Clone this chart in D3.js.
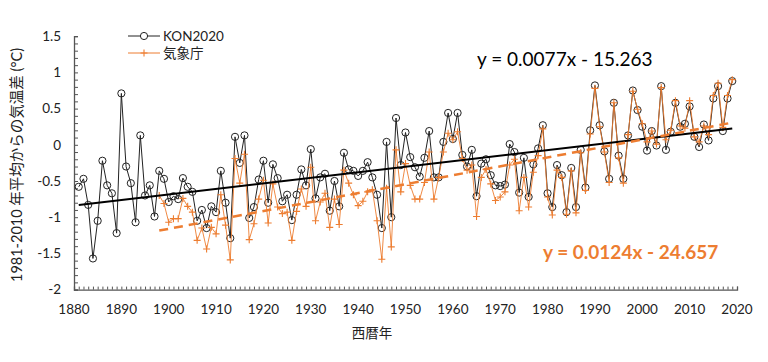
<!DOCTYPE html>
<html lang="ja">
<head>
<meta charset="UTF-8">
<title>気温差</title>
<script src="https://d3js.org/d3.v7.min.js"></script>
<style>
  body { margin: 0; background: #fff; }
  svg { display: block; font-family: "Lato", "Noto Sans CJK JP", sans-serif; }
  .tick-label { font-size: 13.5px; fill: #222; }
</style>
</head>
<body>
<svg width="768" height="362"></svg>
<script>
// KON2020 (1881-2019)
const konStart = 1881;
const konValues = [
  -0.58, -0.47, -0.83, -1.57, -1.05, -0.22, -0.56, -0.67, -1.22, 0.71,
  -0.30, -0.53, -1.07, 0.13, -0.70, -0.56, -0.99, -0.36, -0.47, -0.79,
  -0.71, -0.75, -0.46, -0.58, -0.65, -1.05, -0.90, -1.15, -0.85, -0.93,
  -0.36, -0.80, -1.29, 0.11, -0.25, 0.13, -1.01, -0.86, -0.48, -0.22,
  -0.80, -0.27, -0.46, -0.78, -0.69, -1.04, -0.69, -0.34, -0.56, -0.06,
  -0.74, -0.45, -0.40, -0.91, -0.50, -0.85, -0.11, -0.34, -0.36, -0.43,
  -0.36, -0.24, -0.45, -0.69, -1.15, 0.04, -1.00, 0.37, -0.28, 0.17,
  -0.17, -0.31, -0.44, -0.18, 0.19, -0.45, -0.45, 0.04, 0.44, 0.08,
  0.44, -0.14, -0.30, -0.07, -0.71, -0.26, -0.20, -0.42, -0.56, -0.57,
  -0.55, 0.01, -0.10, -0.66, -0.18, -0.72, -0.27, -0.05, 0.27, -0.67,
  -0.86, -0.28, -0.42, -0.93, -0.32, -0.86, -0.07, -0.59, 0.20, 0.82,
  0.27, -0.09, -0.47, 0.58, -0.15, -0.47, 0.13, 0.75, 0.48, 0.25,
  -0.08, 0.19, -0.01, 0.81, -0.07, 0.18, 0.58, 0.25, 0.29, 0.53,
  0.11, -0.03, 0.28, 0.06, 0.64, 0.81, 0.19, 0.64, 0.88
];

// 気象庁 (1898-2019)
const jmaStart = 1898;
const jmaValues = [
  -0.70, -0.81, -1.07, -1.02, -1.02, -0.74, -0.85, -0.93, -1.32, -1.15,
  -1.44, -1.14, -1.23, -0.69, -1.11, -1.59, -0.19, -0.53, -0.13, -1.31,
  -1.09, -0.75, -0.49, -1.08, -0.54, -0.86, -0.95, -0.93, -1.32, -0.92,
  -0.61, -0.85, -0.31, -1.05, -0.79, -0.67, -1.14, -0.75, -1.10, -0.35,
  -0.53, -0.69, -0.84, -0.78, -0.65, -0.62, -1.05, -1.58, -0.60, -1.41,
  -0.07, -0.65, -0.26, -0.56, -0.75, -0.75, -0.52, -0.10, -0.75, -0.45,
  -0.10, 0.16, 0.07, 0.18, -0.19, -0.35, -0.28, -0.99, -0.45, -0.34,
  -0.54, -0.77, -0.72, -0.65, -0.28, -0.20, -0.91, -0.45, -0.86, -0.38,
  -0.15, 0.22, -0.72, -0.97, -0.35, -0.45, -0.96, -0.36, -0.94, -0.11,
  -0.63, 0.15, 0.78, 0.25, -0.10, -0.52, 0.58, -0.18, -0.53, 0.14,
  0.74, 0.49, 0.29, 0.04, 0.19, 0.01, 0.79, 0.07, 0.20, 0.61,
  0.26, 0.23, 0.61, 0.11, 0.04, 0.26, 0.14, 0.68, 0.85, 0.24,
  0.68, 0.90
];

const seriesNames = ["KON2020", "気象庁"];
const formulas = ["y = 0.0077x - 15.263", "y = 0.0124x - 24.657"];
const yTickValues = [1.5, 1, 0.5, 0, -0.5, -1, -1.5, -2];
const xTickValues = d3.range(1880, 2021, 10);

const orange = "#ED7D31";
const svg = d3.select("svg");

const x = d3.scaleLinear().domain([1880, 2020]).range([74, 737]);
const y = d3.scaleLinear().domain([-2, 1.5]).range([289.6, 36.2]);

const kon = konValues.map((v, i) => ({ year: konStart + i, v }));
const jma = jmaValues.map((v, i) => ({ year: jmaStart + i, v }));

// least squares trend
function fit(data) {
  const n = data.length;
  const mx = d3.mean(data, d => d.year), my = d3.mean(data, d => d.v);
  const sxy = d3.sum(data, d => (d.year - mx) * (d.v - my));
  const sxx = d3.sum(data, d => (d.year - mx) ** 2);
  const b = sxy / sxx;
  const first = data[0].year, last = data[n - 1].year;
  return [{ year: first, v: my + b * (first - mx) }, { year: last, v: my + b * (last - mx) }];
}

// axes
const yAxis = svg.append("g").attr("transform", `translate(${x(1880)},0)`)
  .call(d3.axisRight(y).tickValues(d3.range(-2, 1.501, 0.1)).tickSize(4).tickFormat(""));
const xAxis = svg.append("g").attr("transform", `translate(0,${y(-2)})`)
  .call(d3.axisTop(x).tickValues(d3.range(1880, 2021, 1)).tickSize(3).tickFormat(""));
[yAxis, xAxis].forEach(a => {
  a.select(".domain").attr("stroke", "#555").attr("stroke-width", 1.3);
  a.selectAll(".tick line").attr("stroke", "#555");
});

svg.append("g").selectAll("text").data(yTickValues).join("text")
  .attr("class", "tick-label")
  .attr("x", 61).attr("y", d => y(d)).attr("dy", "0.35em")
  .attr("text-anchor", "end").text(d => d);

svg.append("g").selectAll("text").data(xTickValues).join("text")
  .attr("class", "tick-label")
  .attr("x", d => x(d)).attr("y", 314)
  .attr("text-anchor", "middle").text(d => d);

svg.append("text").attr("transform", "translate(22,165) rotate(-90)")
  .attr("text-anchor", "middle").attr("font-size", 14.5).attr("fill", "#222")
  .text("1981-2010 年平均からの気温差 (°C)");
svg.append("text").attr("x", 372).attr("y", 338)
  .attr("text-anchor", "middle").attr("font-size", 13.5).attr("fill", "#222")
  .text("西暦年");

const line = d3.line().x(d => x(d.year)).y(d => y(d.v));

// KON2020
svg.append("path").datum(kon).attr("d", line)
  .attr("fill", "none").attr("stroke", "#222").attr("stroke-width", 1);
svg.append("g").selectAll("circle").data(kon).join("circle")
  .attr("cx", d => x(d.year)).attr("cy", d => y(d.v)).attr("r", 3.6)
  .attr("fill", "none").attr("stroke", "#222").attr("stroke-width", 1);

// 気象庁
svg.append("path").datum(jma).attr("d", line)
  .attr("fill", "none").attr("stroke", orange).attr("stroke-width", 1).attr("opacity", 0.9);
svg.append("g").selectAll("path").data(jma).join("path")
  .attr("transform", d => `translate(${x(d.year)},${y(d.v)})`)
  .attr("d", "M-3.5,0H3.5M0,-3.5V3.5")
  .attr("stroke", orange).attr("stroke-width", 1.1);

// trend lines
svg.append("path").datum(fit(kon)).attr("d", line)
  .attr("stroke", "#000").attr("stroke-width", 2);
svg.append("path").datum(fit(jma)).attr("d", line)
  .attr("stroke", orange).attr("stroke-width", 2.5).attr("stroke-dasharray", "9,6");

svg.append("text").attr("x", 477).attr("y", 66).attr("font-size", 19)
  .attr("fill", "#000").text(formulas[0]);
svg.append("text").attr("x", 543).attr("y", 259).attr("font-size", 19)
  .attr("font-weight", "bold").attr("fill", orange).text(formulas[1]);

// legend
const legend = svg.append("g");
legend.append("line").attr("x1", 128).attr("x2", 160).attr("y1", 36).attr("y2", 36)
  .attr("stroke", "#222");
legend.append("circle").attr("cx", 144).attr("cy", 36).attr("r", 3.6)
  .attr("fill", "#fff").attr("stroke", "#222");
legend.append("text").attr("x", 163).attr("y", 36).attr("dy", "0.35em")
  .attr("font-size", 13.5).attr("fill", "#222").text(seriesNames[0]);
legend.append("line").attr("x1", 128).attr("x2", 160).attr("y1", 53).attr("y2", 53)
  .attr("stroke", orange);
legend.append("path").attr("transform", "translate(144,53)")
  .attr("d", "M-3.5,0H3.5M0,-3.5V3.5").attr("stroke", orange).attr("stroke-width", 1.1);
legend.append("text").attr("x", 163).attr("y", 53).attr("dy", "0.35em")
  .attr("font-size", 13.5).attr("fill", "#222").text(seriesNames[1]);
</script>
</body>
</html>
